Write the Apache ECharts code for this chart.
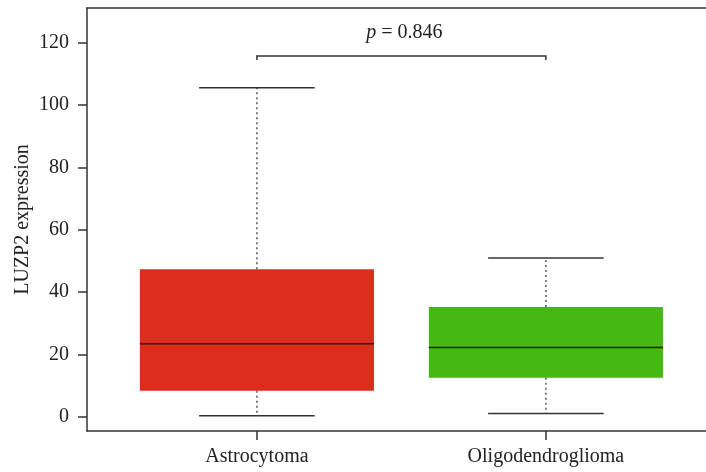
<!DOCTYPE html>
<html><head><meta charset="utf-8">
<script src="https://cdn.jsdelivr.net/npm/echarts@6/dist/echarts.min.js"></script>
<style>html,body{margin:0;padding:0;background:#fff}#c{width:706px;height:472px}</style>
</head><body><div id="c"></div>
<script>
const categories = ['Astrocytoma', 'Oligodendroglioma'];
const boxMin = [0.3, 1.0];
const boxQ1 = [8.3, 12.5];
const boxMedian = [23.4, 22.2];
const boxQ3 = [47.3, 35.2];
const boxMax = [105.5, 50.9];
const boxColors = ['#db2c1c', '#45b814'];
const yTicks = [0, 20, 40, 60, 80, 100, 120];
const bracketY = 115.7;
const bracketTickY = 114.4;
const pText = '0.846';
const pTextY = 123;

const FONT = '"Liberation Serif", "DejaVu Serif", serif';
const FS = 20;
const chart = echarts.init(document.getElementById('c'));
const boxData = categories.map((c, i) => [i + 1, boxMin[i], boxQ1[i], boxMedian[i], boxQ3[i], boxMax[i]]);
const X_MIN = 0.412, X_MAX = 2.554;
const lineCol = { color: '#333', width: 1.5 };

chart.setOption({
  animation: false,
  grid: { left: 87, right: 0, top: 8, bottom: 41 },
  xAxis: [{
    type: 'value', min: X_MIN, max: X_MAX,
    splitLine: { show: false },
    axisLine: { show: true, onZero: false, lineStyle: lineCol },
    axisTick: { show: true, length: 9, customValues: [1, 2], lineStyle: lineCol },
    axisLabel: { customValues: [1, 2], margin: 16, color: '#222', fontFamily: FONT, fontSize: FS,
      formatter: v => categories[Math.round(v) - 1] || '' }
  }, {
    type: 'value', min: X_MIN, max: X_MAX, position: 'top',
    splitLine: { show: false },
    axisLine: { show: true, onZero: false, lineStyle: lineCol },
    axisTick: { show: false }, axisLabel: { show: false }
  }],
  yAxis: {
    type: 'value', min: -4.59, max: 131.08,
    name: 'LUZP2 expression', nameLocation: 'middle', nameGap: 54, nameRotate: 90, nameMoveOverlap: false,
    nameTextStyle: { color: '#222', fontFamily: FONT, fontSize: FS },
    splitLine: { show: false },
    axisLine: { show: true, onZero: false, lineStyle: lineCol },
    axisTick: { show: true, length: 9, customValues: yTicks, lineStyle: lineCol },
    axisLabel: { customValues: yTicks, margin: 18, color: '#222', fontFamily: FONT, fontSize: FS }
  },
  series: [
    {
      type: 'custom',
      data: boxData,
      encode: { x: 0, y: [1, 2, 3, 4, 5] },
      renderItem: function (params, api) {
        const x = api.value(0);
        const i = params.dataIndex;
        const pMin = api.coord([x, api.value(1)]);
        const pQ1 = api.coord([x, api.value(2)]);
        const pMed = api.coord([x, api.value(3)]);
        const pQ3 = api.coord([x, api.value(4)]);
        const pMax = api.coord([x, api.value(5)]);
        const half = (api.coord([x + 0.405, 0])[0] - api.coord([x, 0])[0]);
        const capHalf = (api.coord([x + 0.2, 0])[0] - api.coord([x, 0])[0]);
        const cx = pMed[0];
        const dotted = { stroke: '#555', lineWidth: 1.5, lineDash: [2, 3] };
        const solid = { stroke: '#333', lineWidth: 1.5 };
        return {
          type: 'group',
          children: [
            { type: 'line', shape: { x1: cx, y1: pQ3[1], x2: cx, y2: pMax[1] }, style: dotted },
            { type: 'line', shape: { x1: cx, y1: pQ1[1], x2: cx, y2: pMin[1] }, style: dotted },
            { type: 'line', shape: { x1: cx - capHalf, y1: pMax[1], x2: cx + capHalf, y2: pMax[1] }, style: solid },
            { type: 'line', shape: { x1: cx - capHalf, y1: pMin[1], x2: cx + capHalf, y2: pMin[1] }, style: solid },
            { type: 'rect', shape: { x: cx - half, y: pQ3[1], width: 2 * half, height: pQ1[1] - pQ3[1] }, style: { fill: boxColors[i] } },
            { type: 'line', shape: { x1: cx - half, y1: pMed[1], x2: cx + half, y2: pMed[1] }, style: { stroke: '#1a1a1a', lineWidth: 1.5 } }
          ]
        };
      }
    },
    {
      type: 'custom',
      data: [[1, 2, bracketY, bracketTickY, pTextY]],
      encode: { x: [0, 1], y: [2, 3, 4] },
      renderItem: function (params, api) {
        const a = api.coord([api.value(0), api.value(2)]);
        const b = api.coord([api.value(1), api.value(2)]);
        const t = api.coord([api.value(0), api.value(3)]);
        const tp = api.coord([(api.value(0) + api.value(1)) / 2, api.value(4)]);
        const st = { stroke: '#333', lineWidth: 1.5, fill: null };
        return {
          type: 'group',
          children: [
            { type: 'polyline', shape: { points: [[a[0], t[1]], [a[0], a[1]], [b[0], b[1]], [b[0], t[1]]] }, style: st },
            { type: 'text', x: tp[0] + 3, y: tp[1], style: {
              text: '{i|p} = ' + pText, align: 'center', verticalAlign: 'middle',
              fill: '#222', font: FS + 'px ' + FONT,
              rich: { i: { fontStyle: 'italic', fontFamily: FONT, fontSize: FS, fill: '#222' } }
            } }
          ]
        };
      }
    }
  ]
});
</script>
</body></html>
